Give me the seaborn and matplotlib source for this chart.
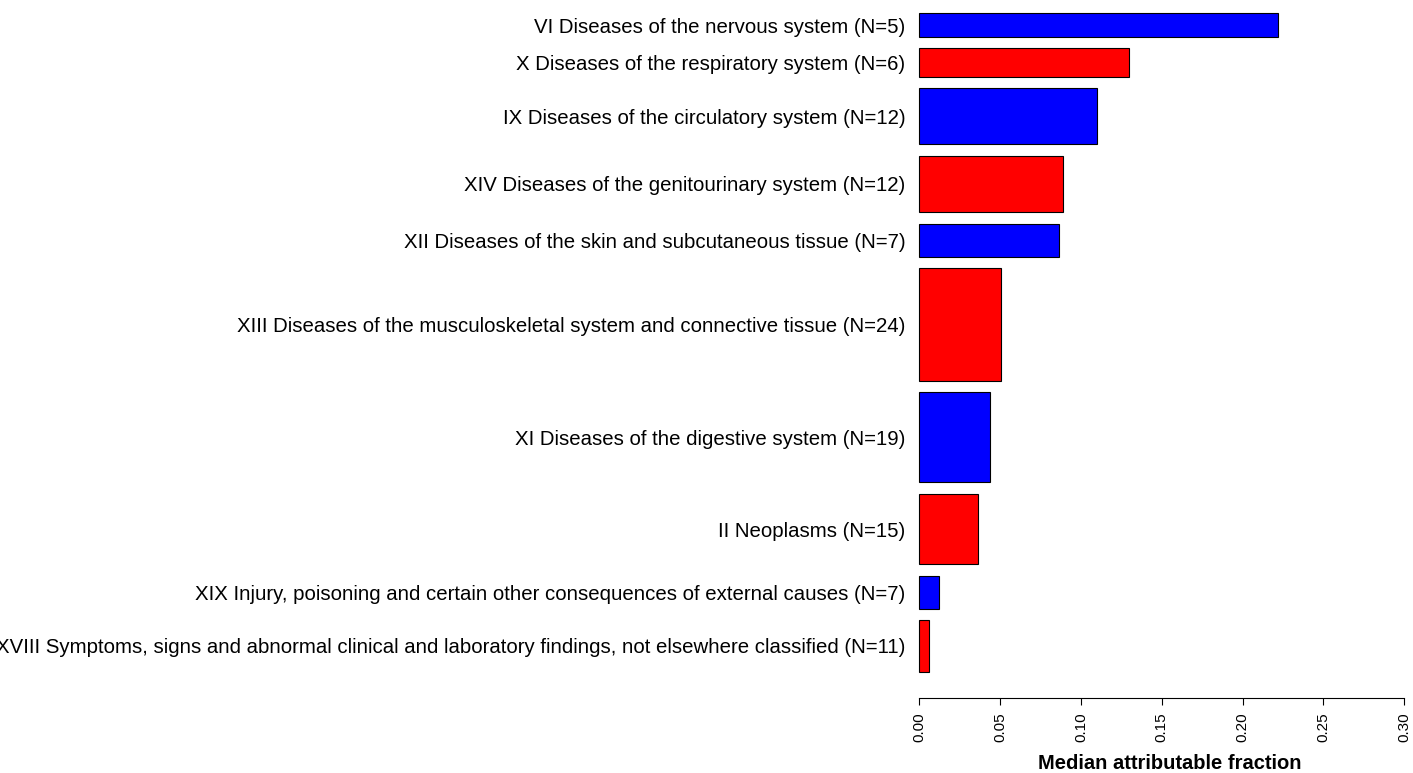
import numpy as np
import pandas as pd
import matplotlib
matplotlib.use("Agg")
import matplotlib.pyplot as plt
import seaborn as sns

# ICD-10 chapters, ordered from largest to smallest median attributable fraction
chapters = [
    "VI Diseases of the nervous system",
    "X Diseases of the respiratory system",
    "IX Diseases of the circulatory system",
    "XIV Diseases of the genitourinary system",
    "XII Diseases of the skin and subcutaneous tissue",
    "XIII Diseases of the musculoskeletal system and connective tissue",
    "XI Diseases of the digestive system",
    "II Neoplasms",
    "XIX Injury, poisoning and certain other consequences of external causes",
    "XVIII Symptoms, signs and abnormal clinical and laboratory findings, not elsewhere classified",
]
n_studies = [5, 6, 12, 12, 7, 24, 19, 15, 7, 11]
median_af = [0.222, 0.130, 0.110, 0.0887, 0.0866, 0.0503, 0.0439, 0.0361, 0.0120, 0.0060]
bar_colors = ["#0000FF", "#FF0000"] * 5
x_ticks = [0.00, 0.05, 0.10, 0.15, 0.20, 0.25, 0.30]

labels = [f"{c} (N={n})" for c, n in zip(chapters, n_studies)]
df = pd.DataFrame({"label": labels, "af": median_af, "n": n_studies})

sns.set_theme(style="white")
plt.rcParams["font.family"] = ["Liberation Sans", "DejaVu Sans"]
plt.rcParams["text.color"] = "black"
plt.rcParams["axes.labelcolor"] = "black"
plt.rcParams["xtick.color"] = "black"
plt.rcParams["ytick.color"] = "black"

fig = plt.figure(figsize=(14.13, 7.73), dpi=100)
ax = fig.add_axes([919.3 / 1413, 74.7 / 773, 485 / 1413, 698.3 / 773])

sns.barplot(data=df, x="af", y="label", hue="label", palette=bar_colors,
            legend=False, orient="h", edgecolor="black", linewidth=0.8,
            saturation=1, ax=ax)

# Bar thickness proportional to the number of studies, with a gap of
# 0.2 x mean thickness between bars (as in a variable-width barplot)
widths = np.array(n_studies, dtype=float)
gap = 0.2 * widths.mean()
bottoms = np.cumsum(widths + gap)
tops = bottoms - widths
centers = (tops + bottoms) / 2

for patch, t, w in zip(ax.patches, tops, widths):
    patch.set_y(t)
    patch.set_height(w)
    patch.set_clip_on(False)

lo, hi = tops.min(), bottoms.max()
span = hi - lo
ax.set_ylim(hi + 0.04 * span, lo - 0.0202 * span)
ax.set_yticks(centers)
ax.set_yticklabels(labels, fontsize=14.65, color="black")
ax.tick_params(axis="y", length=0, pad=10)

ax.set_xlim(0, 0.30)
ax.set_xticks(x_ticks)
ax.set_xticklabels([f"{v:.2f}" for v in x_ticks], rotation=90, fontsize=11,
                   color="black")
ax.tick_params(axis="x", bottom=True, length=5, width=0.8, color="black",
               pad=5, direction="out")

for side in ["top", "right", "left"]:
    ax.spines[side].set_visible(False)
ax.spines["bottom"].set_color("black")
ax.spines["bottom"].set_linewidth(0.8)
ax.spines["bottom"].set_bounds(0, 0.30)

ax.set_ylabel("")
ax.set_xlabel("Median attributable fraction", fontsize=14.5, fontweight="bold",
              color="black")
ax.xaxis.set_label_coords(0.517, -0.080)

fig.savefig("out.png", dpi=100)
